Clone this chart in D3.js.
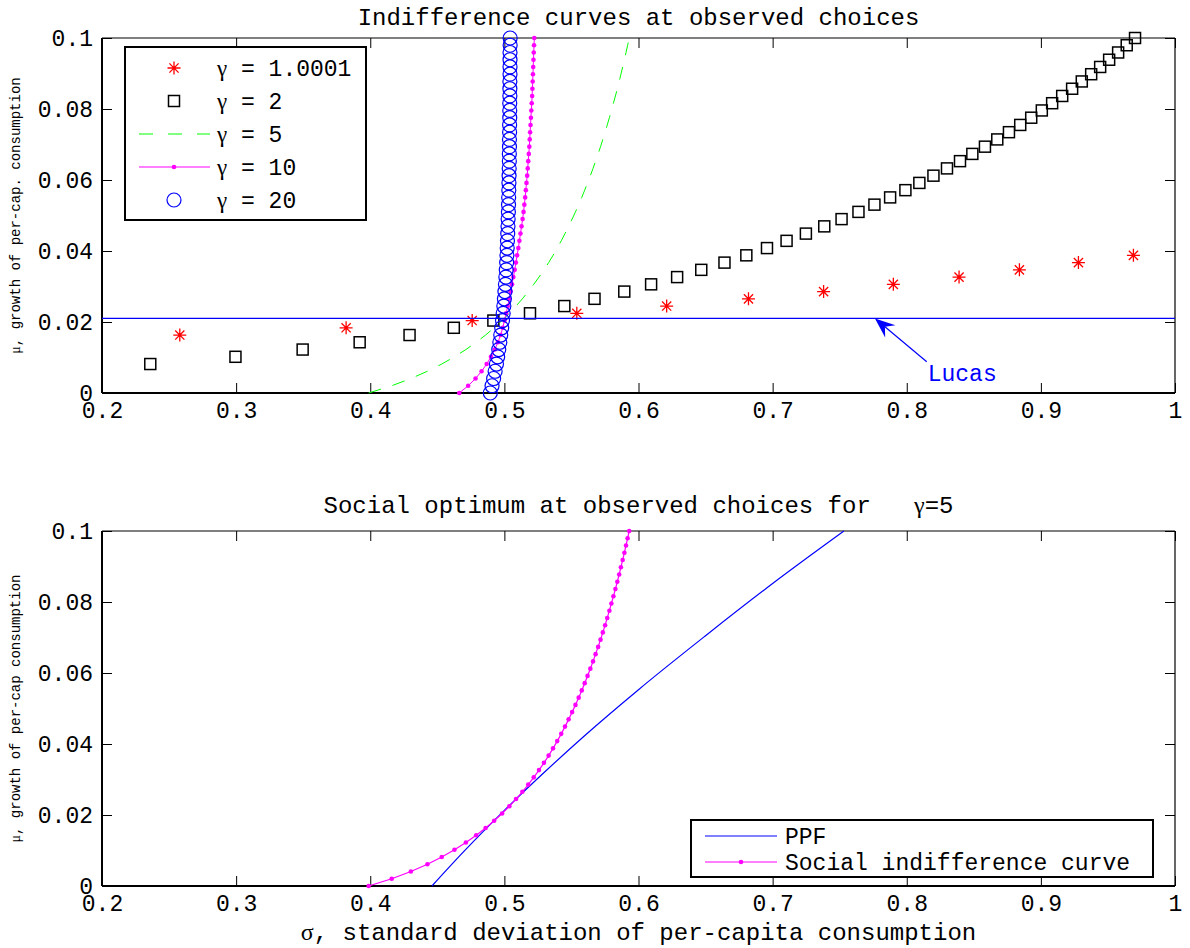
<!DOCTYPE html>
<html>
<head>
<meta charset="utf-8">
<script src="https://cdn.jsdelivr.net/npm/d3@7"></script>
<style>
  body { margin: 0; background: #fff; }
  svg { display: block; }
  text { font-family: "Liberation Mono", "DejaVu Sans Mono", monospace; fill: #000; }
  .greek { font-family: "Liberation Serif", "DejaVu Serif", serif; }
</style>
</head>
<body>
<div id="chart"></div>
<script>
// mu grid shared by all indifference curves
const muGrid = [0, 0.00204, 0.00408, 0.00612, 0.00816, 0.0102, 0.01224, 0.01429, 0.01633, 0.01837,
    0.02041, 0.02245, 0.02449, 0.02653, 0.02857, 0.03061, 0.03265, 0.03469, 0.03673, 0.03878,
    0.04082, 0.04286, 0.0449, 0.04694, 0.04898, 0.05102, 0.05306, 0.0551, 0.05714, 0.05918,
    0.06122, 0.06327, 0.06531, 0.06735, 0.06939, 0.07143, 0.07347, 0.07551, 0.07755, 0.07959,
    0.08163, 0.08367, 0.08571, 0.08776, 0.0898, 0.09184, 0.09388, 0.09592, 0.09796, 0.1];

// gamma = 1.0001 (stars)
const starSigma = [0.258, 0.382, 0.476, 0.554, 0.621, 0.682, 0.738, 0.790, 0.839, 0.884, 0.928, 0.969];
const starMu = muGrid.slice(8, 20);

// gamma = 2 (squares)
const squareSigma = [0.236, 0.2995, 0.3496, 0.3921, 0.4293, 0.4623, 0.4918, 0.5191, 0.5447, 0.5672,
    0.5894, 0.6094, 0.6288, 0.6468, 0.6641, 0.6804, 0.6958, 0.7104, 0.7248, 0.7385,
    0.7514, 0.7640, 0.7759, 0.7876, 0.7990, 0.8094, 0.8199, 0.8300, 0.8397, 0.8489,
    0.8583, 0.8675, 0.8762, 0.8846, 0.8928, 0.9007, 0.9084, 0.9159, 0.9233, 0.9305,
    0.9375, 0.9442, 0.9509, 0.9576, 0.9640, 0.9702];
const squareMu = muGrid.slice(4);

// gamma = 5 (also the social indifference curve in the lower panel)
const gamma5Sigma = [0.3988, 0.4160, 0.4303, 0.4426, 0.4533, 0.4628, 0.4713, 0.4790, 0.4860, 0.4924,
    0.4983, 0.5037, 0.5087, 0.5134, 0.5178, 0.5219, 0.5258, 0.5295, 0.5330, 0.5363,
    0.5394, 0.5424, 0.5452, 0.5479, 0.5505, 0.5530, 0.5554, 0.5577, 0.5599, 0.5620,
    0.5641, 0.5661, 0.5680, 0.5699, 0.5717, 0.5734, 0.5751, 0.5767, 0.5783, 0.5798,
    0.5813, 0.5828, 0.5842, 0.5856, 0.5869, 0.5882, 0.5895, 0.5907, 0.5919, 0.5931];

// gamma = 10
const gamma10Sigma = [0.4664, 0.4730, 0.4785, 0.4830, 0.4868, 0.4900, 0.4928, 0.4952, 0.4972, 0.4988,
    0.5001, 0.5013, 0.5025, 0.5036, 0.5047, 0.5057, 0.5067, 0.5077, 0.5086, 0.5095,
    0.5104, 0.5112, 0.5120, 0.5128, 0.5136, 0.5143, 0.5149, 0.5155, 0.5160, 0.5165,
    0.5170, 0.5174, 0.5178, 0.5182, 0.5186, 0.5189, 0.5192, 0.5195, 0.5198, 0.5201,
    0.5204, 0.5207, 0.5209, 0.5211, 0.5213, 0.5215, 0.5217, 0.5219, 0.5221, 0.5223];

// gamma = 20
const gamma20Sigma = [0.4895, 0.4908, 0.4920, 0.4931, 0.4941, 0.4950, 0.4958, 0.4966, 0.4973, 0.4980,
    0.4986, 0.4991, 0.4996, 0.5000, 0.5004, 0.5008, 0.5011, 0.5014, 0.5017, 0.5019,
    0.5021, 0.5023, 0.5025, 0.5027, 0.5028, 0.5030, 0.5031, 0.5032, 0.5033, 0.5034,
    0.5035, 0.5036, 0.5037, 0.5037, 0.5038, 0.5038, 0.5039, 0.5039, 0.5040, 0.5040,
    0.5040, 0.5041, 0.5041, 0.5041, 0.5042, 0.5042, 0.5042, 0.5042, 0.5043, 0.5043];

// production possibility frontier
const ppfSigma = [0.446, 0.47, 0.50, 0.53, 0.56, 0.60, 0.65, 0.70, 0.7532];
const ppfMu = [0, 0.0098, 0.0213, 0.0321, 0.0424, 0.0553, 0.0705, 0.0852, 0.1];

const lucasMu = 0.021;
const lucasTip = [0.7763, 0.021], lucasTail = [0.8149, 0.0088], lucasLabel = [0.8156, 0.0034];

const xTicks = [0.2, 0.3, 0.4, 0.5, 0.6, 0.7, 0.8, 0.9, 1];
const xTickLabels = ["0.2", "0.3", "0.4", "0.5", "0.6", "0.7", "0.8", "0.9", "1"];
const yTicks = [0, 0.02, 0.04, 0.06, 0.08, 0.1];
const yTickLabels = ["0", "0.02", "0.04", "0.06", "0.08", "0.1"];

const topLegend = ["γ = 1.0001", "γ = 2", "γ = 5", "γ = 10", "γ = 20"];
const bottomLegend = ["PPF", "Social indifference curve"];

const width = 1190, height = 948;
const left = 102, right = 1175;

const x = d3.scaleLinear().domain([0.2, 1]).range([left, right]);
const yTop = d3.scaleLinear().domain([0, 0.1]).range([393, 38]);
const yBot = d3.scaleLinear().domain([0, 0.1]).range([886, 531]);

const svg = d3.select("#chart")
    .append("svg")
    .attr("width", width)
    .attr("height", height);

const zip = (xs, ys) => xs.map((d, i) => [d, ys[i]]);

// greek letters in a serif face, like the TeX symbols of the original
function richText(sel, str) {
    str.split(/([γσμ])/).filter(s => s.length).forEach(s => {
        const t = sel.append("tspan").text(s);
        if (/[γσμ]/.test(s)) t.attr("class", "greek");
    });
}

function drawAxes(y, title, titleY, ylabel) {
    const top = y.range()[1], bottom = y.range()[0];
    svg.append("g")
        .attr("class", "axis")
        .attr("transform", `translate(0, ${bottom})`)
        .call(d3.axisBottom(x).tickValues(xTicks).tickFormat((d, i) => xTickLabels[i])
            .tickSizeInner(-10).tickSizeOuter(0).tickPadding(9));
    svg.append("g")
        .attr("class", "axis")
        .attr("transform", `translate(0, ${top})`)
        .call(d3.axisTop(x).tickValues(xTicks).tickFormat("").tickSizeInner(-10).tickSizeOuter(0));
    svg.append("g")
        .attr("class", "axis")
        .attr("transform", `translate(${left}, 0)`)
        .call(d3.axisLeft(y).tickValues(yTicks).tickFormat((d, i) => yTickLabels[i])
            .tickSizeInner(-10).tickSizeOuter(0).tickPadding(9));
    svg.append("g")
        .attr("class", "axis")
        .attr("transform", `translate(${right}, 0)`)
        .call(d3.axisRight(y).tickValues(yTicks).tickFormat("").tickSizeInner(-10).tickSizeOuter(0));

    // box: heavier on left and bottom like the original
    svg.append("line").attr("x1", left).attr("x2", right).attr("y1", top).attr("y2", top)
        .attr("stroke", "#000").attr("stroke-width", 1.2);
    svg.append("line").attr("x1", right).attr("x2", right).attr("y1", top).attr("y2", bottom)
        .attr("stroke", "#000").attr("stroke-width", 1.2);
    svg.append("line").attr("x1", left).attr("x2", right).attr("y1", bottom).attr("y2", bottom)
        .attr("stroke", "#000").attr("stroke-width", 2);
    svg.append("line").attr("x1", left).attr("x2", left).attr("y1", top).attr("y2", bottom)
        .attr("stroke", "#000").attr("stroke-width", 2);

    svg.append("text")
        .attr("x", (left + right) / 2)
        .attr("y", titleY)
        .attr("text-anchor", "middle")
        .style("white-space", "pre")
        .style("font-size", "24px")
        .call(richText, title);

    svg.append("text")
        .attr("transform", `translate(20, ${(top + bottom) / 2}) rotate(-90)`)
        .attr("text-anchor", "middle")
        .style("font-size", "14px")
        .call(richText, ylabel);
}

drawAxes(yTop, "Indifference curves at observed choices", 25, "μ, growth of per-cap. consumption");
drawAxes(yBot, "Social optimum at observed choices for   γ=5", 513, "μ, growth of per-cap consumption");

svg.selectAll(".axis .domain").remove();
svg.selectAll(".axis .tick line").attr("stroke", "#000").attr("stroke-width", 1);
svg.selectAll(".axis .tick text").style("font-size", "23px").attr("fill", "#000");

svg.append("text")
    .attr("x", (left + right) / 2)
    .attr("y", 940)
    .attr("text-anchor", "middle")
    .style("font-size", "24px")
    .call(richText, "σ, standard deviation of per-capita consumption");

// marker shapes
const starPath = "M-6.5,0H6.5M0,-6.5V6.5M-4.6,-4.6L4.6,4.6M-4.6,4.6L4.6,-4.6";

function stars(g, cx, cy) {
    g.append("path").attr("d", starPath).attr("transform", `translate(${cx}, ${cy})`)
        .attr("fill", "none").attr("stroke", "#ff0000").attr("stroke-width", 1.3);
    g.append("circle").attr("cx", cx).attr("cy", cy).attr("r", 1.3).attr("fill", "#ff0000");
}

// ---------- top panel ----------
const topG = svg.append("g");
const line = y => d3.line().x(d => x(d[0])).y(d => y(d[1]));

zip(starSigma, starMu).forEach(d => stars(topG, x(d[0]), yTop(d[1])));

topG.selectAll(".sq")
    .data(zip(squareSigma, squareMu))
    .enter()
    .append("rect")
    .attr("x", d => x(d[0]) - 5.5)
    .attr("y", d => yTop(d[1]) - 5.5)
    .attr("width", 11)
    .attr("height", 11)
    .attr("fill", "none")
    .attr("stroke", "#000")
    .attr("stroke-width", 1.5);

topG.append("path")
    .attr("d", line(yTop)(zip(gamma5Sigma, muGrid)))
    .attr("fill", "none")
    .attr("stroke", "#00ff00")
    .attr("stroke-width", 1)
    .attr("stroke-dasharray", "13,12");

topG.append("path")
    .attr("d", line(yTop)(zip(gamma10Sigma, muGrid)))
    .attr("fill", "none")
    .attr("stroke", "#ff00ff")
    .attr("stroke-width", 1);
topG.selectAll(".g10")
    .data(zip(gamma10Sigma, muGrid))
    .enter()
    .append("circle")
    .attr("cx", d => x(d[0]))
    .attr("cy", d => yTop(d[1]))
    .attr("r", 2.3)
    .attr("fill", "#ff00ff");

topG.selectAll(".g20")
    .data(zip(gamma20Sigma, muGrid))
    .enter()
    .append("circle")
    .attr("cx", d => x(d[0]))
    .attr("cy", d => yTop(d[1]))
    .attr("r", 7)
    .attr("fill", "none")
    .attr("stroke", "#0000ff")
    .attr("stroke-width", 1.2);

topG.append("line")
    .attr("x1", x(0.2)).attr("x2", x(1))
    .attr("y1", yTop(lucasMu)).attr("y2", yTop(lucasMu))
    .attr("stroke", "#0000ff")
    .attr("stroke-width", 1.2);

// Lucas annotation arrow
{
    const tx = x(lucasTip[0]), ty = yTop(lucasTip[1]);
    const sx = x(lucasTail[0]), sy = yTop(lucasTail[1]);
    const len = Math.hypot(sx - tx, sy - ty);
    const ux = (sx - tx) / len, uy = (sy - ty) / len;
    const px = -uy, py = ux;
    const headLen = 20, halfW = 8, notch = 13;
    const bx = tx + ux * headLen, by = ty + uy * headLen;
    const nx = tx + ux * notch, ny = ty + uy * notch;
    topG.append("line")
        .attr("x1", sx).attr("y1", sy).attr("x2", nx).attr("y2", ny)
        .attr("stroke", "#0000ff").attr("stroke-width", 1.2);
    topG.append("polygon")
        .attr("points", [[tx, ty], [bx + px * halfW, by + py * halfW], [nx, ny], [bx - px * halfW, by - py * halfW]]
            .map(p => p.join(",")).join(" "))
        .attr("fill", "#0000ff");
    topG.append("text")
        .attr("x", x(lucasLabel[0]))
        .attr("y", yTop(lucasLabel[1]))
        .style("font-size", "23px")
        .style("fill", "#0000ff")
        .text("Lucas");
}

// top legend
const lg = svg.append("g");
lg.append("rect")
    .attr("x", 125).attr("y", 47).attr("width", 241).attr("height", 173)
    .attr("fill", "#fff").attr("stroke", "#000").attr("stroke-width", 2);
const rowY = i => 68 + i * 33;
lg.selectAll(".lt")
    .data(topLegend)
    .enter()
    .append("text")
    .attr("x", 217)
    .attr("y", (d, i) => rowY(i))
    .attr("dy", "0.35em")
    .style("font-size", "23px")
    .style("white-space", "pre")
    .each(function (d) { richText(d3.select(this), d); });
stars(lg, 174, rowY(0));
lg.append("rect").attr("x", 174 - 5.5).attr("y", rowY(1) - 5.5).attr("width", 11).attr("height", 11)
    .attr("fill", "none").attr("stroke", "#000").attr("stroke-width", 1.5);
lg.append("line").attr("x1", 139).attr("x2", 210).attr("y1", rowY(2)).attr("y2", rowY(2))
    .attr("stroke", "#00ff00").attr("stroke-width", 1).attr("stroke-dasharray", "14,15");
lg.append("line").attr("x1", 139).attr("x2", 210).attr("y1", rowY(3)).attr("y2", rowY(3))
    .attr("stroke", "#ff00ff").attr("stroke-width", 1);
lg.append("circle").attr("cx", 174).attr("cy", rowY(3)).attr("r", 2.3).attr("fill", "#ff00ff");
lg.append("circle").attr("cx", 174).attr("cy", rowY(4)).attr("r", 7)
    .attr("fill", "none").attr("stroke", "#0000ff").attr("stroke-width", 1.2);

// ---------- bottom panel ----------
const botG = svg.append("g");

botG.append("path")
    .attr("d", line(yBot).curve(d3.curveMonotoneX)(zip(ppfSigma, ppfMu)))
    .attr("fill", "none")
    .attr("stroke", "#0000ff")
    .attr("stroke-width", 1.2);

botG.append("path")
    .attr("d", line(yBot)(zip(gamma5Sigma, muGrid)))
    .attr("fill", "none")
    .attr("stroke", "#ff00ff")
    .attr("stroke-width", 1.2);
botG.selectAll(".soc")
    .data(zip(gamma5Sigma, muGrid))
    .enter()
    .append("circle")
    .attr("cx", d => x(d[0]))
    .attr("cy", d => yBot(d[1]))
    .attr("r", 2.3)
    .attr("fill", "#ff00ff");

// bottom legend
const lg2 = svg.append("g");
lg2.append("rect")
    .attr("x", 691).attr("y", 820).attr("width", 462).attr("height", 57)
    .attr("fill", "#fff").attr("stroke", "#000").attr("stroke-width", 2);
const row2Y = i => 836 + i * 26;
lg2.selectAll(".lt")
    .data(bottomLegend)
    .enter()
    .append("text")
    .attr("x", 785)
    .attr("y", (d, i) => row2Y(i))
    .attr("dy", "0.35em")
    .style("font-size", "23px")
    .text(d => d);
lg2.append("line").attr("x1", 705).attr("x2", 777).attr("y1", row2Y(0)).attr("y2", row2Y(0))
    .attr("stroke", "#0000ff").attr("stroke-width", 1.2);
lg2.append("line").attr("x1", 705).attr("x2", 777).attr("y1", row2Y(1)).attr("y2", row2Y(1))
    .attr("stroke", "#ff00ff").attr("stroke-width", 1.2);
lg2.append("circle").attr("cx", 741).attr("cy", row2Y(1)).attr("r", 2.3).attr("fill", "#ff00ff");
</script>
</body>
</html>
